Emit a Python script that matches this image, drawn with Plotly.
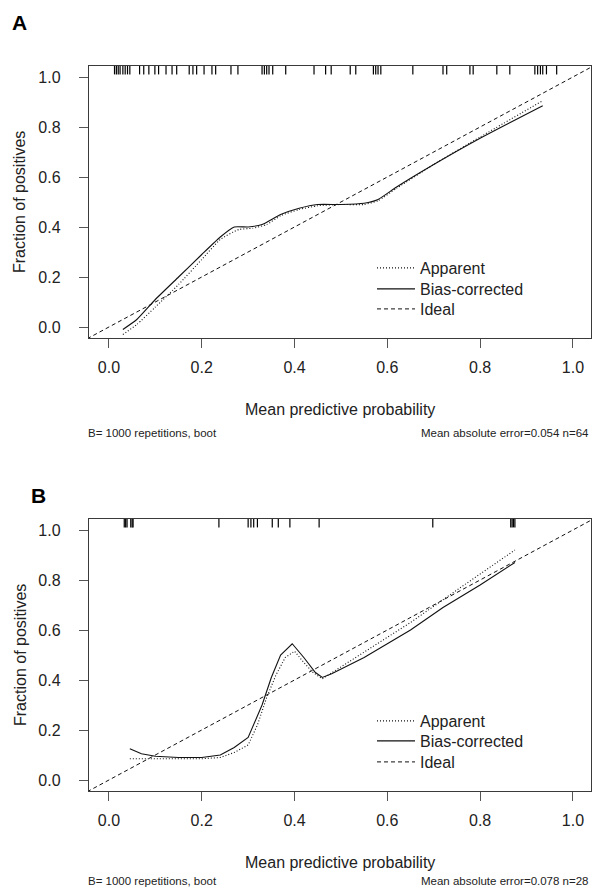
import plotly.graph_objects as go

# ---------------- data ----------------
# Panel A
a_app_x = [0.03, 0.06, 0.10, 0.15, 0.20, 0.24, 0.28, 0.31, 0.34, 0.37, 0.41, 0.45, 0.50, 0.55, 0.58, 0.62, 0.70, 0.80, 0.935]
a_app_y = [-0.03, 0.01, 0.08, 0.17, 0.27, 0.35, 0.39, 0.395, 0.41, 0.445, 0.47, 0.485, 0.49, 0.49, 0.505, 0.555, 0.65, 0.76, 0.905]
a_bc_x = [0.03, 0.06, 0.10, 0.15, 0.20, 0.24, 0.27, 0.30, 0.33, 0.37, 0.41, 0.45, 0.50, 0.55, 0.58, 0.62, 0.70, 0.80, 0.935]
a_bc_y = [-0.01, 0.03, 0.11, 0.20, 0.29, 0.36, 0.40, 0.40, 0.41, 0.45, 0.475, 0.49, 0.49, 0.495, 0.51, 0.56, 0.65, 0.755, 0.885]
a_rug = [0.012, 0.016, 0.02, 0.024, 0.03, 0.035, 0.04, 0.045, 0.066, 0.075, 0.086, 0.099, 0.107,
         0.123, 0.136, 0.146, 0.173, 0.181, 0.189, 0.205, 0.222, 0.23, 0.263, 0.278, 0.33, 0.335,
         0.34, 0.345, 0.353, 0.381, 0.442, 0.467, 0.479, 0.52, 0.532, 0.57, 0.575, 0.58, 0.586,
         0.655, 0.72, 0.728, 0.778, 0.785, 0.836, 0.864, 0.918, 0.924, 0.93, 0.935, 0.943, 0.965]

# Panel B
b_app_x = [0.045, 0.10, 0.15, 0.20, 0.24, 0.27, 0.30, 0.32, 0.34, 0.36, 0.38, 0.40, 0.42, 0.44, 0.46, 0.55, 0.65, 0.75, 0.875]
b_app_y = [0.085, 0.085, 0.085, 0.085, 0.09, 0.11, 0.14, 0.22, 0.33, 0.42, 0.49, 0.515, 0.47, 0.43, 0.405, 0.51, 0.63, 0.76, 0.92]
b_bc_x = [0.045, 0.07, 0.10, 0.15, 0.20, 0.24, 0.27, 0.30, 0.33, 0.35, 0.37, 0.395, 0.42, 0.445, 0.46, 0.48, 0.55, 0.65, 0.72, 0.80, 0.875]
b_bc_y = [0.125, 0.105, 0.095, 0.09, 0.09, 0.10, 0.13, 0.17, 0.30, 0.41, 0.50, 0.545, 0.49, 0.43, 0.41, 0.425, 0.49, 0.60, 0.69, 0.78, 0.87]
b_rug = [0.033, 0.036, 0.039, 0.047, 0.05, 0.052, 0.237, 0.30, 0.306, 0.312, 0.32, 0.352, 0.365,
         0.39, 0.453, 0.698, 0.866, 0.869, 0.872, 0.875]

ideal_x = [-0.1, 1.1]
tick_vals = [0.0, 0.2, 0.4, 0.6, 0.8, 1.0]
tick_text = ["0.0", "0.2", "0.4", "0.6", "0.8", "1.0"]
legend_names = ["Apparent", "Bias-corrected", "Ideal"]
x_title = "Mean predictive probability"
y_title = "Fraction of positives"
footer_left = "B= 1000 repetitions, boot"
footer_right = ["Mean absolute error=0.054 n=64", "Mean absolute error=0.078 n=28"]
panel_labels = ["A", "B"]

# ---------------- layout helpers ----------------
W, H = 593, 890
FONT = "Liberation Sans, Arial, sans-serif"
NARROW = "Liberation Sans Narrow, Liberation Sans, Arial, sans-serif"
XR = [-0.043, 1.039]
YR = [-0.044, 1.044]


def px(v):
    return v / W


def py(v):
    return 1 - v / H


fig = go.Figure()
legend_ids = [["legend", "legend2", "legend3"], ["legend4", "legend5", "legend6"]]


def add_panel(n, app_x, app_y, bc_x, bc_y, rug, shape):
    xa = "x" if n == 1 else "x2"
    ya = "y" if n == 1 else "y2"
    lg = legend_ids[n - 1]
    fig.add_trace(go.Scatter(x=app_x, y=app_y, mode="lines", name=legend_names[0],
                             line=dict(color="#111", width=1.1, dash="1px,2px", shape=shape, smoothing=0.5),
                             xaxis=xa, yaxis=ya, legend=lg[0]))
    fig.add_trace(go.Scatter(x=bc_x, y=bc_y, mode="lines", name=legend_names[1],
                             line=dict(color="#111", width=1.1, shape=shape, smoothing=0.5),
                             xaxis=xa, yaxis=ya, legend=lg[1]))
    fig.add_trace(go.Scatter(x=ideal_x, y=ideal_x, mode="lines", name=legend_names[2],
                             line=dict(color="#111", width=1.0, dash="4px,3px"),
                             xaxis=xa, yaxis=ya, legend=lg[2]))
    fig.add_trace(go.Scatter(x=rug, y=[YR[1]] * len(rug), mode="markers", showlegend=False,
                             marker=dict(symbol="line-ns", size=12,
                                         line=dict(color="#000", width=1.2)),
                             cliponaxis=True, xaxis=xa, yaxis=ya, hoverinfo="skip"))


add_panel(1, a_app_x, a_app_y, a_bc_x, a_bc_y, a_rug, "spline")
add_panel(2, b_app_x, b_app_y, b_bc_x, b_bc_y, b_rug, "linear")

axis_common = dict(
    showline=True, mirror=True, linecolor="#3a3a3a", linewidth=1.4,
    ticks="outside", ticklen=9, tickwidth=1, tickcolor="#555",
    tickvals=tick_vals, ticktext=tick_text, showgrid=False, zeroline=False,
    tickfont=dict(family=FONT, size=16, color="#222"),
)

x_dom = [px(89), px(591)]
boxes = [(66, 338), (519, 791)]

layout = dict(
    width=W, height=H, margin=dict(l=0, r=0, t=0, b=0),
    paper_bgcolor="white", plot_bgcolor="white", showlegend=True,
    xaxis=dict(domain=x_dom, range=XR, anchor="y", ticklabelstandoff=6, **axis_common),
    yaxis=dict(domain=[py(boxes[0][1]), py(boxes[0][0])], range=YR, anchor="x", ticklabelstandoff=15, **axis_common),
    xaxis2=dict(domain=x_dom, range=XR, anchor="y2", ticklabelstandoff=6, **axis_common),
    yaxis2=dict(domain=[py(boxes[1][1]), py(boxes[1][0])], range=YR, anchor="x2", ticklabelstandoff=15, **axis_common),
)

# one legend per entry so the row spacing matches the reference
legend_rows = [[268, 289, 309], [721, 741, 762]]
for p in range(2):
    for k in range(3):
        layout[legend_ids[p][k]] = dict(
            x=px(372), y=py(legend_rows[p][k]), xanchor="left", yanchor="middle",
            font=dict(family=FONT, size=16, color="#222"),
            bgcolor="rgba(0,0,0,0)", itemwidth=38)
fig.update_layout(**layout)

annots = []
label_pos = [(19, 22), (38, 496)]
footer_y = [433, 881]
for i, (top, bot) in enumerate(boxes):
    lx, ly = label_pos[i]
    annots.append(dict(text="<b>%s</b>" % panel_labels[i], x=px(lx), y=py(ly), xref="paper", yref="paper",
                       showarrow=False, xanchor="center", yanchor="middle",
                       font=dict(family=FONT, size=21, color="#000")))
    annots.append(dict(text=y_title, x=px(20), y=py((top + bot) / 2), xref="paper", yref="paper",
                       showarrow=False, textangle=-90, xanchor="center", yanchor="middle",
                       font=dict(family=FONT, size=16, color="#222")))
    annots.append(dict(text=x_title, x=px(340), y=py(bot + 71), xref="paper", yref="paper",
                       showarrow=False, xanchor="center", yanchor="middle",
                       font=dict(family=FONT, size=16, color="#222")))
    annots.append(dict(text=footer_left, x=px(86), y=py(footer_y[i]), xref="paper", yref="paper",
                       showarrow=False, xanchor="left", yanchor="middle",
                       font=dict(family=NARROW, size=11.5, color="#222")))
    annots.append(dict(text=footer_right[i], x=px(591), y=py(footer_y[i]), xref="paper", yref="paper",
                       showarrow=False, xanchor="right", yanchor="middle",
                       font=dict(family=NARROW, size=11.5, color="#222")))
fig.update_layout(annotations=annots)

fig.write_html("out.html")
